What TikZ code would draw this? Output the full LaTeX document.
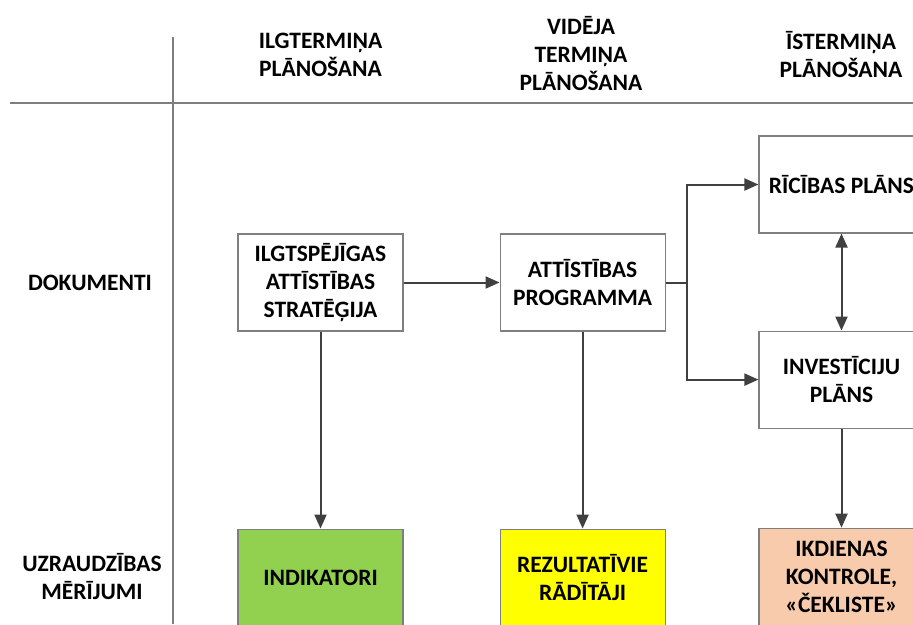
\documentclass[tikz,border=0pt]{standalone}
\usepackage{fontspec}
\setmainfont{Carlito}
\usetikzlibrary{positioning,arrows.meta}
\definecolor{PlanGrid}{HTML}{7F7F7F}
\definecolor{PlanArrow}{HTML}{404040}
\definecolor{PlanGreen}{HTML}{92D050}
\definecolor{PlanYellow}{HTML}{FFFF00}
\definecolor{PlanPeach}{HTML}{F8CBAD}

\begin{document}
\begin{tikzpicture}[x=1pt, y=-1pt, node distance=96pt,
    every node/.style={font=\bfseries\fontsize{23.5}{28}\selectfont, align=center},
    docbox/.style={draw=PlanGrid, line width=1.1pt, fill=white, minimum width=165pt, minimum height=97pt, inner sep=0pt},
    >={Triangle[length=14pt, width=12pt]}]
  \clip (0,0) rectangle (913,624);
  % grid
  \draw[PlanGrid, line width=1.5pt] (173,37) -- (173,624);
  \draw[PlanGrid, line width=1.5pt] (10,103) -- (913,103);
  % column and row headers
  \node (hlong) at (320.5,55) {ILGTERMIŅA\\PLĀNOŠANA};
  \node (hmid) at (581,53.5) {VIDĒJA\\TERMIŅA\\PLĀNOŠANA};
  \node (hshort) at (841,55) {ĪSTERMIŅA\\PLĀNOŠANA};
  \node (rdoc) at (90,283) {DOKUMENTI};
  \node (rmeas) at (92,577) {UZRAUDZĪBAS\\MĒRĪJUMI};
  % documents
  \node[docbox] (strat) at (320.5,282.5) {ILGTSPĒJĪGAS\\ATTĪSTĪBAS\\STRATĒĢIJA};
  \node[docbox, right=of strat] (prog) {ATTĪSTĪBAS\\PROGRAMMA};
  \node[docbox] (ricib) at (841.5,184.5) {RĪCĪBAS PLĀNS};
  \node[docbox, below=97pt of ricib] (invest) {INVESTĪCIJU\\PLĀNS};
  % measurements
  \node[docbox, fill=PlanGreen, below=197pt of strat] (indik) {INDIKATORI};
  \node[docbox, fill=PlanYellow, below=197pt of prog] (rezult) {REZULTATĪVIE\\RĀDĪTĀJI};
  \node[docbox, fill=PlanPeach, below=99pt of invest] (ikdien) {IKDIENAS\\KONTROLE,\\«ČEKLISTE»};
  % connectors
  \coordinate (split) at (687,282.5);
  \draw[->, line width=2pt, PlanArrow] (strat) -- (prog);
  \draw[line width=2pt, PlanArrow] (prog) -- (split);
  \draw[->, line width=2pt, PlanArrow] (split) |- (ricib);
  \draw[->, line width=2pt, PlanArrow] (split) |- (invest);
  \draw[<->, line width=2pt, PlanArrow] (ricib) -- (invest);
  \draw[->, line width=2pt, PlanArrow] (strat) -- (indik);
  \draw[->, line width=2pt, PlanArrow] (prog) -- (rezult);
  \draw[->, line width=2pt, PlanArrow] (invest) -- (ikdien);
\end{tikzpicture}
\end{document}
